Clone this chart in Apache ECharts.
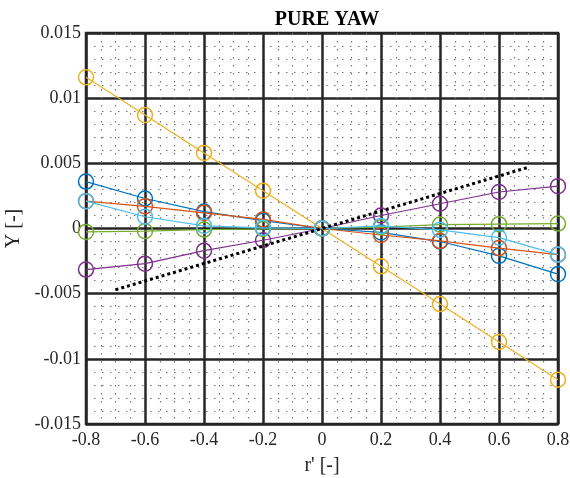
<!DOCTYPE html>
<html>
<head>
<meta charset="utf-8">
<script src="https://cdn.jsdelivr.net/npm/echarts@6/dist/echarts.min.js"></script>
<style>html,body{margin:0;padding:0;background:#fff}#c{width:570px;height:478px}</style>
</head>
<body>
<div id="c"></div>
<script>
const titleText = 'PURE YAW';
const xLabel = "r' [-]";
const yLabel = 'Y [-]';
const rValues = [-0.8, -0.6, -0.4, -0.2, 0, 0.2, 0.4, 0.6, 0.8];
const blueY   = [0.0036, 0.0023, 0.0013, 0.0006, 0, -0.0003, -0.0010, -0.0021, -0.0035];
const orangeY = [0.0021, 0.0017, 0.0012, 0.0007, 0, -0.0005, -0.00095, -0.0015, -0.0020];
const yellowY = [0.0116, 0.0087, 0.0058, 0.0029, 0, -0.0029, -0.0058, -0.0087, -0.0116];
const purpleY = [-0.00315, -0.0027, -0.0017, -0.0009, 0, 0.0010, 0.0019, 0.0028, 0.00325];
const greenY  = [-0.00026, -0.0002, -0.00008, -0.00004, 0, 0.0001, 0.0003, 0.00033, 0.00038];
const lblueY  = [0.0021, 0.0009, 0.0002, 0.00005, 0, 0.0002, -0.0001, -0.0007, -0.0020];
const refX = [-0.7, 0.7];
const refY = [-0.0047, 0.0047];

const colors = ['#0072BD', '#D95319', '#EDB120', '#7E2F8E', '#77AC30', '#4DBEEE'];
const seriesVals = [blueY, orangeY, yellowY, purpleY, greenY, lblueY];

function zip(xs, ys) { return xs.map((x, i) => [x, ys[i]]); }
const fmt = v => { const s = Number(v.toFixed(4)).toString(); return s === '-0' ? '0' : s; };

const series = seriesVals.map((ys, i) => ({
  type: 'line',
  data: zip(rValues, ys),
  symbol: 'circle',
  symbolSize: 15,
  lineStyle: { color: colors[i], width: 1.2 },
  itemStyle: { color: 'rgba(0,0,0,0)', borderColor: colors[i], borderWidth: 1.5 },
  emphasis: { disabled: true },
  z: 3 + i
}));
series.push({
  type: 'line',
  data: zip(refX, refY),
  symbol: 'none',
  lineStyle: { color: '#000', width: 3, type: [3, 3] },
  z: 10
});

const chart = echarts.init(document.getElementById('c'), null, { renderer: 'canvas' });
chart.setOption({
  animation: false,
  backgroundColor: '#fff',
  title: {
    text: titleText, left: 322, top: 5, textAlign: 'center',
    textStyle: { fontFamily: 'Liberation Serif', fontSize: 20, fontWeight: 'bold', color: '#000' }
  },
  grid: { left: 86, right: 12, top: 33, bottom: 54, outerBoundsMode: 'none', containLabel: false, show: true, borderColor: '#262626', borderWidth: 2.5, backgroundColor: 'transparent' },
  xAxis: {
    type: 'value', min: -0.8, max: 0.8, interval: 0.2,
    name: xLabel, nameLocation: 'middle', nameGap: 32,
    nameTextStyle: { fontFamily: 'Liberation Serif', fontSize: 20, color: '#262626' },
    axisLine: { show: false },
    axisTick: { show: false },
    axisLabel: { formatter: fmt, fontFamily: 'Liberation Serif', fontSize: 18, color: '#262626', margin: 7 },
    splitLine: { show: true, lineStyle: { color: '#262626', width: 2.5 } },
    minorTick: { show: false, splitNumber: 4 },
    minorSplitLine: { show: true, lineStyle: { color: '#777', width: 1.2, type: [1.5, 6.5] } }
  },
  yAxis: {
    type: 'value', min: -0.015, max: 0.015, interval: 0.005,
    name: yLabel, nameLocation: 'middle', nameGap: 55,
    nameTextStyle: { fontFamily: 'Liberation Serif', fontSize: 20, color: '#262626' },
    axisLine: { show: false },
    axisTick: { show: false },
    axisLabel: { formatter: fmt, fontFamily: 'Liberation Serif', fontSize: 18, color: '#262626', margin: 5 },
    splitLine: { show: true, lineStyle: { color: '#262626', width: 2.5 } },
    minorTick: { show: false, splitNumber: 5 },
    minorSplitLine: { show: true, lineStyle: { color: '#777', width: 1.2, type: [1.5, 6.5] } }
  },
  series: series
});
</script>
</body>
</html>
